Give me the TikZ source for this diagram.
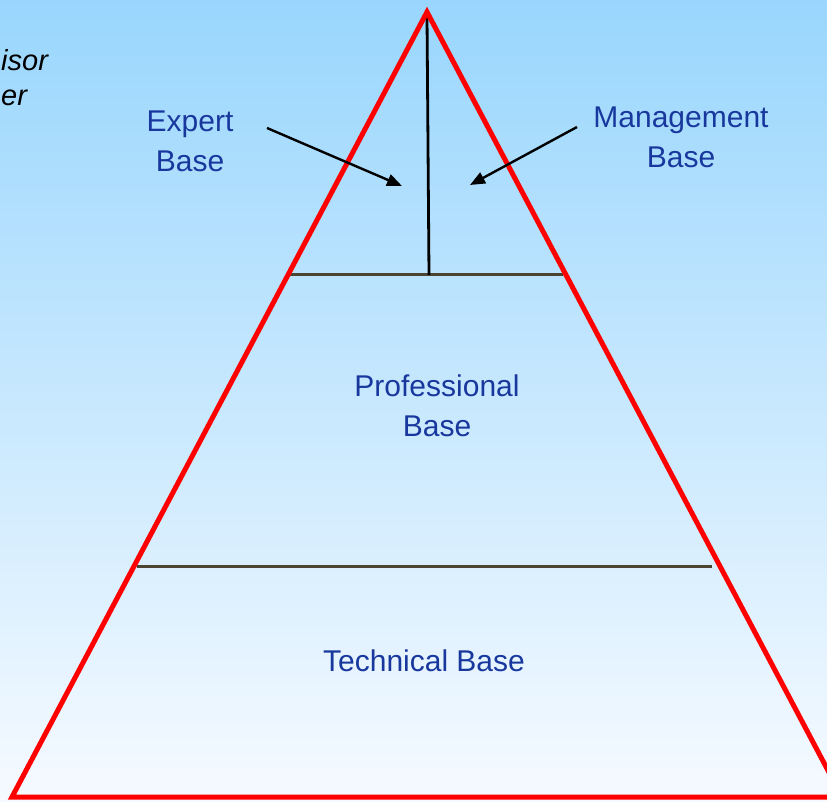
\documentclass[tikz,border=0pt]{standalone}
\usepackage{fontspec}
\setmainfont{Liberation Sans}
\usetikzlibrary{positioning,arrows.meta}

\definecolor{skytop}{RGB}{153,214,253}
\definecolor{skybot}{RGB}{246,250,255}
\definecolor{labelblue}{RGB}{24,56,158}
\definecolor{tierline}{RGB}{76,68,50}

\tikzset{
  baselabel/.style={text=labelblue,font=\fontsize{30}{40}\selectfont,align=center,inner sep=0pt},
  sidenote/.style={right,black,inner sep=0pt,font=\itshape\fontsize{29}{34}\selectfont},
  pointer/.style={-{Triangle[length=15pt,width=12pt]},line width=2.4pt,black},
  tier/.style={line width=3pt,tierline}
}

\begin{document}
\begin{tikzpicture}[x=1pt,y=-1pt]

\useasboundingbox (0,0) rectangle (827,802);
\clip (0,0) rectangle (827,802);
\shade[top color=skytop,bottom color=skybot] (0,0) rectangle (827,802);

% cut-off words at the left
\node [sidenote] (wordA) at (1,60) {isor};
\node [sidenote] (wordB) at (1,98) {er};

% dividing lines
\draw[tier] (290,275) to (563,275);
\draw[tier] (137,566) to (712,566);
\draw[line width=2.8pt,black] (427,16) to (429,275);

% pyramid outline
\draw[red,line width=5pt,line join=miter] (427,12) -- (12,797) -- (842,797) -- cycle;

\node [baselabel] (expert) at (190,141) {Expert\\Base};
\node [baselabel] (management) at (681,137) {Management\\Base};
\node [baselabel] (professional) at (437,406) {Professional\\Base};
\node [baselabel] (technical) at (424,661) {Technical Base};

\coordinate (expertTail) at (267,128);
\coordinate (expertTip) at (402,186);
\coordinate (managementTail) at (577,127);
\coordinate (managementTip) at (470,185);

\draw[pointer] (expertTail) to (expertTip);
\draw[pointer] (managementTail) to (managementTip);

\end{tikzpicture}
\end{document}
